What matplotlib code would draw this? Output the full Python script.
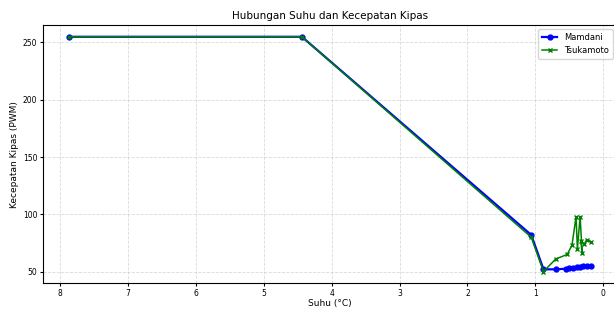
import matplotlib
matplotlib.use("Agg")
import matplotlib.pyplot as plt

suhu_mamdani = [7.87, 4.44, 1.06, 0.88, 0.70, 0.55, 0.50, 0.45, 0.39, 0.34, 0.30, 0.24, 0.18]
pwm_mamdani = [255, 255, 82, 52, 52, 52.5, 53, 53.5, 54, 54, 54.5, 55, 55]

suhu_tsukamoto = [7.87, 4.44, 1.06, 0.88, 0.70, 0.53, 0.46, 0.40, 0.38, 0.34, 0.31, 0.33, 0.28, 0.24, 0.18]
pwm_tsukamoto = [255, 255, 80, 50, 61, 65, 73, 98, 70, 98, 66, 77, 74, 78, 76]

fig = plt.figure(figsize=(6.14, 3.09), dpi=100)
ax = fig.add_axes([0.070, 0.083, 0.935, 0.836])

ax.plot(suhu_mamdani, pwm_mamdani, color='blue', marker='o', markersize=3.5, linewidth=1.6, label='Mamdani')
ax.plot(suhu_tsukamoto, pwm_tsukamoto, color='green', marker='x', markersize=3.5, linewidth=1.1, label='Tsukamoto')

ax.invert_xaxis()
ax.set_title('Hubungan Suhu dan Kecepatan Kipas', fontsize=7.5, pad=4)
ax.set_xlabel('Suhu (°C)', fontsize=6.5, labelpad=0.5)
ax.set_ylabel('Kecepatan Kipas (PWM)', fontsize=6.5, labelpad=3)
ax.tick_params(labelsize=5.5, length=2.5, pad=1.5)
ax.grid(True, linestyle='--', linewidth=0.6, alpha=0.45)
ax.legend(loc='upper right', fontsize=6, handlelength=1.8, borderpad=0.5, labelspacing=0.4)
for s in ax.spines.values():
    s.set_linewidth(0.8)

fig.savefig('out.png', dpi=100)
